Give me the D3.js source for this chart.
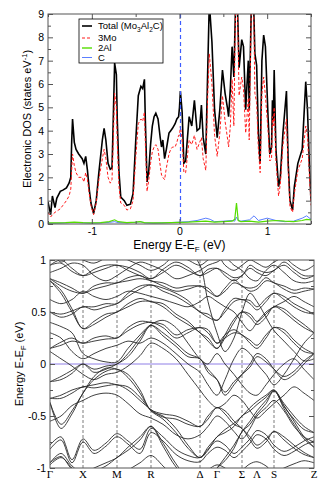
<!DOCTYPE html>
<html>
<head>
<meta charset="utf-8">
<script src="https://cdn.jsdelivr.net/npm/d3@7"></script>
<style>
  body { margin: 0; background: #fff; }
  svg { display: block; font-family: "Liberation Sans", Arial, sans-serif; }
</style>
</head>
<body>
<svg id="chart" width="332" height="494"></svg>
<script>
// ---- DOS panel data ----
const dosEnergy = [-1.50,-1.47,-1.45,-1.42,-1.40,-1.36,-1.33,-1.29,-1.26,-1.24,-1.23,-1.22,-1.20,-1.18,-1.15,-1.11,-1.09,-1.07,-1.05,-1.03,-1.01,-0.98,-0.95,-0.92,-0.88,-0.86,-0.84,-0.815,-0.79,-0.77,-0.76,-0.74,-0.72,-0.71,-0.69,-0.67,-0.63,-0.60,-0.56,-0.53,-0.50,-0.47,-0.44,-0.42,-0.40,-0.39,-0.37,-0.35,-0.33,-0.31,-0.29,-0.27,-0.245,-0.22,-0.205,-0.19,-0.17,-0.15,-0.12,-0.10,-0.08,-0.05,-0.03,-0.01,0.00,0.01,0.03,0.05,0.07,0.11,0.14,0.17,0.20,0.23,0.25,0.27,0.30,0.32,0.34,0.37,0.40,0.43,0.46,0.49,0.52,0.55,0.56,0.58,0.60,0.62,0.64,0.66,0.68,0.71,0.73,0.755,0.77,0.785,0.795,0.82,0.845,0.86,0.88,0.90,0.92,0.94,0.96,0.98,1.01,1.03,1.05,1.06,1.07,1.08,1.10,1.13,1.15,1.18,1.22,1.24,1.26,1.29,1.31,1.35,1.40,1.44,1.46,1.48,1.50];
const dosTotal = [0.95,0.40,1.20,0.70,1.10,1.40,1.45,1.55,1.75,2.00,3.50,4.50,3.50,3.20,3.00,2.80,2.60,2.90,2.30,1.50,0.90,0.45,1.00,2.20,3.60,4.10,3.60,2.60,2.35,2.40,3.80,6.90,6.40,4.50,2.20,1.15,1.00,0.80,0.85,1.30,3.50,5.50,5.90,5.80,6.20,4.50,1.80,2.30,3.40,4.20,4.60,4.75,4.50,3.70,3.30,3.60,2.80,3.20,3.90,4.00,4.10,4.30,4.50,4.60,5.00,5.70,4.80,2.60,2.70,4.60,4.20,5.30,4.00,4.10,5.10,3.70,3.00,6.30,9.50,7.80,4.90,3.70,4.90,6.60,5.60,4.90,4.60,5.80,7.60,6.30,9.50,9.50,6.70,7.90,7.60,4.90,6.00,7.00,4.90,9.50,9.50,7.30,6.80,3.90,2.60,7.00,8.10,7.60,4.60,3.00,3.30,5.30,4.40,6.60,3.20,1.60,2.00,3.90,5.70,2.60,1.00,0.60,1.60,2.60,3.20,6.10,4.90,2.70,1.00];
const dosMo = [0.50,0.30,0.40,0.50,0.55,0.65,0.80,1.00,1.20,1.50,2.30,3.00,2.50,2.20,2.00,2.00,1.80,2.20,1.90,1.30,0.80,0.40,0.90,1.90,2.80,3.20,2.80,2.00,1.75,1.90,3.00,5.60,5.00,3.50,1.60,0.90,0.80,0.60,0.65,1.00,2.80,4.30,4.50,4.40,4.80,3.50,1.40,1.90,2.60,3.10,3.30,3.40,3.20,2.50,2.10,2.00,1.90,2.40,3.00,3.20,3.30,3.30,3.50,3.80,3.80,4.20,3.60,2.20,2.20,3.60,3.40,3.80,3.20,3.50,3.70,2.80,2.30,5.30,7.30,6.00,3.80,2.90,3.90,5.50,4.40,3.60,3.30,4.20,6.20,4.20,9.50,9.50,5.50,6.30,5.80,3.90,4.60,5.40,3.60,9.50,9.50,5.60,5.20,3.20,2.20,5.60,6.30,5.50,4.00,2.70,2.80,4.60,4.20,5.00,2.70,1.20,1.70,3.40,4.50,2.30,0.75,0.50,1.30,2.30,2.80,4.20,3.80,2.20,0.80];
const pdosEnergy = [-1.5,-1.4,-1.3,-1.2,-1.1,-1.0,-0.9,-0.8,-0.74,-0.7,-0.6,-0.5,-0.45,-0.4,-0.3,-0.2,-0.1,0.0,0.1,0.2,0.3,0.35,0.4,0.5,0.6,0.63,0.65,0.67,0.7,0.8,0.85,0.9,1.0,1.1,1.2,1.3,1.4,1.45,1.5];
const dosAl = [0.05,0.05,0.06,0.08,0.06,0.05,0.06,0.10,0.18,0.10,0.06,0.08,0.10,0.06,0.05,0.05,0.06,0.07,0.08,0.10,0.12,0.10,0.08,0.10,0.12,0.20,0.90,0.15,0.10,0.12,0.10,0.08,0.12,0.15,0.12,0.10,0.15,0.20,0.18];
const dosC = [0.03,0.04,0.05,0.06,0.05,0.04,0.05,0.07,0.10,0.06,0.05,0.07,0.10,0.05,0.04,0.05,0.06,0.08,0.10,0.15,0.25,0.20,0.10,0.12,0.15,0.12,0.30,0.15,0.12,0.18,0.35,0.15,0.25,0.15,0.10,0.12,0.25,0.35,0.20];

const dosXTicks = [-1, 0, 1];
const dosXMinor = [-1.5, -0.5, 0.5, 1.5];
const dosYTicks = [0, 1, 2, 3, 4, 5, 6, 7, 8, 9];
const dosYMinor = [0.5, 1.5, 2.5, 3.5, 4.5, 5.5, 6.5, 7.5, 8.5];

// ---- band structure data ----
const kLabels = ["\u0393", "X", "M", "R", "\u0394", "\u0393", "\u03a3", "\u039b", "S", "Z"];
const kLabelPos = [0, 33, 67, 101, 150, 167, 192, 207, 224, 264];
const kDashed = [33, 67, 101, 150, 192, 224];
const kNodes = [0, 11, 22, 33, 44, 56, 67, 78, 90, 101, 113, 126, 138, 150, 158, 167, 175, 184, 192, 200, 207, 216, 224, 234, 244, 254, 264];
const bandYTicks = [-1, -0.5, 0, 0.5, 1];
const bandYMinor = [-0.75, -0.25, 0.25, 0.75];

const band01 = [-0.97,-0.90,-1.00,-1.12,-1.15,-1.10,-1.08,-1.02,-0.95,-0.88,-0.98,-1.10,-1.15,-1.10,-1.02,-0.97,-1.00,-1.06,-1.02,-0.96,-0.94,-0.98,-1.04,-1.00,-0.96,-0.93,-0.95];
const band02 = [-0.78,-0.70,-0.92,-0.72,-0.83,-0.76,-0.67,-0.74,-0.82,-0.62,-0.70,-0.82,-0.88,-0.90,-0.82,-0.74,-0.78,-0.86,-0.80,-0.72,-0.64,-0.68,-0.78,-0.84,-0.80,-0.74,-0.70];
const band03 = [-0.82,-0.73,-0.95,-0.75,-0.86,-0.79,-0.70,-0.77,-0.86,-0.66,-0.74,-0.87,-0.93,-0.94,-0.86,-0.80,-0.83,-0.90,-0.84,-0.76,-0.68,-0.72,-0.82,-0.88,-0.84,-0.78,-0.74];
const band04 = [-0.95,-0.86,-0.98,-1.05,-1.00,-0.95,-0.90,-0.80,-0.70,-0.60,-0.76,-0.96,-1.10,-1.15,-1.10,-1.00,-0.90,-0.78,-0.65,-0.55,-0.45,-0.35,-0.26,-0.38,-0.50,-0.60,-0.66];
const band04b = [-0.95,-0.89,-1.01,-1.05,-1.03,-0.98,-0.90,-0.83,-0.73,-0.60,-0.79,-0.99,-1.10,-1.15,-1.10,-1.00,-0.93,-0.81,-0.65,-0.58,-0.48,-0.38,-0.26,-0.41,-0.53,-0.63,-0.66];
const band05 = [-0.37,-0.58,-0.45,-0.28,-0.12,-0.04,-0.05,-0.10,-0.25,-0.45,-0.50,-0.62,-0.78,-0.90,-0.80,-0.70,-0.63,-0.57,-0.50,-0.42,-0.36,-0.30,-0.25,-0.40,-0.55,-0.70,-0.80];
const band05b = [-0.37,-0.62,-0.48,-0.28,-0.15,-0.07,-0.05,-0.13,-0.28,-0.45,-0.53,-0.66,-0.81,-0.90,-0.83,-0.70,-0.66,-0.60,-0.50,-0.45,-0.39,-0.32,-0.25,-0.43,-0.58,-0.72,-0.80];
const band06 = [-0.33,-0.30,-0.25,-0.22,-0.20,-0.18,-0.20,-0.22,-0.32,-0.44,-0.48,-0.50,-0.55,-0.60,-0.50,-0.42,-0.45,-0.55,-0.62,-0.70,-0.78,-0.72,-0.65,-0.70,-0.78,-0.85,-0.90];
const band06b = [-0.33,-0.33,-0.28,-0.22,-0.23,-0.21,-0.20,-0.25,-0.35,-0.44,-0.51,-0.53,-0.58,-0.60,-0.53,-0.42,-0.48,-0.58,-0.62,-0.73,-0.81,-0.75,-0.65,-0.73,-0.81,-0.87,-0.90];
const band07 = [-0.55,-0.50,-0.40,-0.35,-0.30,-0.28,-0.30,-0.38,-0.48,-0.52,-0.58,-0.68,-0.72,-0.68,-0.60,-0.50,-0.55,-0.65,-0.72,-0.62,-0.50,-0.42,-0.35,-0.45,-0.60,-0.70,-0.75];
const band08 = [-0.17,-0.12,-0.06,0.00,-0.05,-0.02,0.00,0.10,0.25,0.37,0.30,0.20,0.10,0.05,-0.05,-0.15,-0.30,-0.20,-0.10,0.00,0.10,0.05,-0.05,-0.15,-0.10,0.00,0.10];
const band08b = [-0.17,-0.15,-0.09,0.00,-0.08,-0.05,0.00,0.07,0.22,0.37,0.27,0.17,0.07,0.05,-0.08,-0.15,-0.27,-0.17,-0.10,-0.03,0.07,0.02,-0.05,-0.12,-0.07,0.03,0.10];
const band09 = [0.12,0.05,-0.02,-0.10,-0.15,-0.10,-0.08,-0.02,0.08,0.20,0.15,0.05,-0.10,-0.25,-0.35,-0.42,-0.38,-0.30,-0.35,-0.45,-0.52,-0.45,-0.38,-0.30,-0.22,-0.28,-0.35];
const band10 = [0.40,0.36,0.30,0.10,0.05,0.02,0.02,0.15,0.28,0.38,0.42,0.35,0.20,0.05,0.00,0.10,0.00,-0.10,-0.20,-0.28,-0.30,-0.20,-0.10,0.00,0.05,-0.05,-0.15];
const band11 = [0.30,0.25,0.12,0.05,0.10,0.15,0.18,0.22,0.20,0.25,0.20,0.10,0.00,-0.08,-0.20,-0.30,-0.15,0.05,0.15,0.10,0.00,-0.10,-0.20,-0.10,0.05,0.20,0.30];
const band12 = [0.15,0.18,0.22,0.20,0.22,0.24,0.25,0.32,0.38,0.40,0.35,0.25,0.30,0.35,0.30,0.20,0.25,0.30,0.28,0.20,0.15,0.25,0.35,0.30,0.20,0.12,0.10];
const band12b = [0.15,0.21,0.25,0.20,0.25,0.27,0.25,0.35,0.41,0.40,0.38,0.28,0.33,0.35,0.33,0.20,0.28,0.33,0.28,0.23,0.18,0.28,0.35,0.33,0.23,0.15,0.10];
const band13 = [0.80,0.68,0.50,0.34,0.38,0.45,0.50,0.55,0.60,0.60,0.55,0.45,0.38,0.30,0.22,0.15,0.25,0.40,0.50,0.45,0.38,0.45,0.55,0.50,0.42,0.35,0.30];
const band13b = [0.80,0.71,0.53,0.34,0.41,0.48,0.50,0.58,0.63,0.60,0.58,0.48,0.41,0.30,0.25,0.15,0.28,0.43,0.50,0.48,0.41,0.48,0.55,0.53,0.45,0.38,0.30];
const band14 = [0.50,0.45,0.48,0.55,0.52,0.55,0.58,0.65,0.72,0.76,0.70,0.65,0.58,0.50,0.45,0.42,0.50,0.60,0.62,0.58,0.52,0.60,0.68,0.62,0.55,0.50,0.48];
const band14b = [0.50,0.48,0.51,0.55,0.55,0.58,0.58,0.68,0.75,0.76,0.73,0.68,0.61,0.50,0.48,0.42,0.53,0.63,0.62,0.61,0.55,0.63,0.68,0.65,0.58,0.53,0.48];
const band15 = [0.62,0.58,0.62,0.70,0.65,0.62,0.65,0.70,0.68,0.65,0.62,0.58,0.55,0.60,0.65,0.60,0.55,0.50,0.40,0.32,0.40,0.50,0.55,0.60,0.65,0.60,0.55];
const band16 = [1.20,1.15,1.10,1.10,1.15,1.20,1.20,1.15,1.10,1.05,1.10,1.15,1.10,0.95,0.60,0.30,0.12,0.25,0.50,0.68,0.60,0.45,0.32,0.22,0.12,0.03,0.05];
const band17 = [0.82,0.75,0.70,0.68,0.72,0.75,0.78,0.80,0.82,0.80,0.75,0.70,0.72,0.75,0.70,0.65,0.70,0.78,0.75,0.70,0.72,0.80,0.78,0.72,0.68,0.70,0.72];
const band17b = [0.82,0.78,0.73,0.68,0.75,0.78,0.78,0.83,0.85,0.80,0.78,0.73,0.75,0.75,0.73,0.65,0.73,0.81,0.75,0.73,0.75,0.83,0.78,0.75,0.71,0.73,0.72];
const band18 = [0.95,1.00,0.92,0.85,0.88,0.92,0.95,0.90,0.85,0.82,0.88,0.95,0.90,0.85,0.88,0.92,0.85,0.80,0.85,0.92,0.88,0.85,0.90,0.95,0.88,0.82,0.85];
const band18b = [0.95,0.97,0.89,0.85,0.91,0.95,0.95,0.93,0.88,0.82,0.91,0.98,0.93,0.85,0.91,0.92,0.88,0.83,0.85,0.95,0.91,0.88,0.90,0.98,0.91,0.85,0.85];
const band19 = [1.10,0.98,1.05,1.00,0.97,1.02,1.05,1.00,0.95,0.90,0.95,1.05,1.00,0.95,1.00,1.05,0.95,0.90,0.95,1.00,0.97,0.93,0.98,1.02,0.95,0.90,0.95];
const band20 = [0.88,0.92,0.97,0.95,0.85,0.80,0.85,0.92,0.98,0.95,0.90,0.82,0.85,0.90,0.95,0.98,1.02,0.95,0.90,0.82,0.80,0.90,0.95,0.88,0.80,0.78,0.80];
const bands = [band01, band02, band03, band04, band04b, band05, band05b, band06, band06b, band07,
               band08, band08b, band09, band10, band11, band12, band12b, band13, band13b, band14,
               band14b, band15, band16, band17, band17b, band18, band18b, band19, band20];

const svg = d3.select("#chart");
const frameColor = "#555";

// ================= DOS panel =================
const dosBox = { left: 48, right: 311, top: 14, bottom: 224 };
const xE = d3.scaleLinear().domain([-1.5, 1.5]).range([dosBox.left, dosBox.right]);
const yD = d3.scaleLinear().domain([0, 9]).range([dosBox.bottom, dosBox.top]);

const defs = svg.append("defs");
defs.append("clipPath").attr("id", "clipDos").append("rect")
  .attr("x", dosBox.left).attr("y", dosBox.top)
  .attr("width", dosBox.right - dosBox.left).attr("height", dosBox.bottom - dosBox.top);

const dosG = svg.append("g").attr("clip-path", "url(#clipDos)");

const dosLine = (ex, ys) => d3.line()
  .x((d, i) => xE(ex[i]))
  .y(d => yD(d))(ys);

dosG.append("path").attr("d", dosLine(pdosEnergy, dosC))
  .attr("fill", "none").attr("stroke", "#5b7fff").attr("stroke-width", 1);
dosG.append("path").attr("d", dosLine(pdosEnergy, dosAl))
  .attr("fill", "none").attr("stroke", "#55dd00").attr("stroke-width", 1.2);
dosG.append("path").attr("d", dosLine(dosEnergy, dosTotal))
  .attr("fill", "none").attr("stroke", "#000").attr("stroke-width", 1.6);
dosG.append("path").attr("d", dosLine(dosEnergy, dosMo))
  .attr("fill", "none").attr("stroke", "#ff1a1a").attr("stroke-width", 1)
  .attr("stroke-dasharray", "3,2");

// Fermi level marker, drawn over the curves
dosG.append("line")
  .attr("x1", Math.round(xE(0)) + 0.5).attr("x2", Math.round(xE(0)) + 0.5)
  .attr("y1", dosBox.top).attr("y2", dosBox.bottom)
  .attr("stroke", "#3d5cff").attr("stroke-width", 1.2)
  .attr("stroke-dasharray", "4,3");

// axes (ticks pointing inward)
function styleAxis(g) {
  g.select(".domain").remove();
  g.selectAll(".tick line").attr("stroke", frameColor);
  g.selectAll(".tick text").attr("fill", "#000").attr("font-size", 10.5);
}
svg.append("g").attr("transform", `translate(0,${dosBox.bottom})`)
  .call(d3.axisBottom(xE).tickValues(dosXTicks).tickSize(-5).tickPadding(4).tickFormat(d => String(d)))
  .call(styleAxis);
svg.append("g").attr("transform", `translate(0,${dosBox.bottom})`)
  .call(d3.axisBottom(xE).tickValues(dosXMinor).tickSize(-3).tickFormat(""))
  .call(styleAxis);
svg.append("g").attr("transform", `translate(0,${dosBox.top})`)
  .call(d3.axisTop(xE).tickValues(dosXTicks).tickSize(-5).tickFormat(""))
  .call(styleAxis);
svg.append("g").attr("transform", `translate(0,${dosBox.top})`)
  .call(d3.axisTop(xE).tickValues(dosXMinor).tickSize(-3).tickFormat(""))
  .call(styleAxis);
svg.append("g").attr("transform", `translate(${dosBox.left},0)`)
  .call(d3.axisLeft(yD).tickValues(dosYTicks).tickSize(-5).tickPadding(4).tickFormat(d => String(d)))
  .call(styleAxis);
svg.append("g").attr("transform", `translate(${dosBox.left},0)`)
  .call(d3.axisLeft(yD).tickValues(dosYMinor).tickSize(-3).tickFormat(""))
  .call(styleAxis);
svg.append("g").attr("transform", `translate(${dosBox.right},0)`)
  .call(d3.axisRight(yD).tickValues(dosYTicks).tickSize(-5).tickFormat(""))
  .call(styleAxis);
svg.append("g").attr("transform", `translate(${dosBox.right},0)`)
  .call(d3.axisRight(yD).tickValues(dosYMinor).tickSize(-3).tickFormat(""))
  .call(styleAxis);

svg.append("rect")
  .attr("x", dosBox.left).attr("y", dosBox.top)
  .attr("width", dosBox.right - dosBox.left).attr("height", dosBox.bottom - dosBox.top)
  .attr("fill", "none").attr("stroke", frameColor).attr("stroke-width", 1);

// axis titles
const xTitle = svg.append("text")
  .attr("x", xE(0)).attr("y", 248.5)
  .attr("text-anchor", "middle").attr("font-size", 12);
xTitle.append("tspan").text("Energy E-E");
xTitle.append("tspan").attr("font-size", 8).attr("dy", 3).text("F");
xTitle.append("tspan").attr("dy", -3).text(" (eV)");

const yTitle = svg.append("text")
  .attr("transform", `translate(31,${(dosBox.top + dosBox.bottom) / 2}) rotate(-90)`)
  .attr("text-anchor", "middle").attr("font-size", 11);
yTitle.append("tspan").text("Electronic DOS (states eV");
yTitle.append("tspan").attr("font-size", 7.5).attr("dy", -4).text("-1");
yTitle.append("tspan").attr("dy", 4).text(")");

// legend
const legend = svg.append("g");
legend.append("rect")
  .attr("x", 79).attr("y", 19).attr("width", 84).attr("height", 44)
  .attr("fill", "#fff").attr("stroke", "#000").attr("stroke-width", 0.8);
const legendItems = [
  { color: "#000", width: 1.6, dash: null, y: 26 },
  { color: "#ff1a1a", width: 1, dash: "3,2", y: 38 },
  { color: "#55dd00", width: 1.4, dash: null, y: 48 },
  { color: "#5b7fff", width: 1, dash: null, y: 57.5 }
];
legendItems.forEach(it => {
  legend.append("line").attr("x1", 82).attr("x2", 92).attr("y1", it.y).attr("y2", it.y)
    .attr("stroke", it.color).attr("stroke-width", it.width)
    .attr("stroke-dasharray", it.dash);
});
const lt = legend.append("text").attr("x", 98).attr("y", 29.3).attr("font-size", 9.5);
lt.append("tspan").text("Total (Mo");
lt.append("tspan").attr("font-size", 6.5).attr("dy", 2.5).text("3");
lt.append("tspan").attr("dy", -2.5).text("Al");
lt.append("tspan").attr("font-size", 6.5).attr("dy", 2.5).text("2");
lt.append("tspan").attr("dy", -2.5).text("C)");
legend.append("text").attr("x", 98).attr("y", 41.3).attr("font-size", 9.5).text("3Mo");
legend.append("text").attr("x", 98).attr("y", 51.3).attr("font-size", 9.5).text("2Al");
legend.append("text").attr("x", 98).attr("y", 60.8).attr("font-size", 9.5).text("C");

// ================= band structure panel =================
const bandBox = { left: 50, right: 314, top: 260, bottom: 468 };
const xK = d3.scaleLinear().domain([0, 264]).range([bandBox.left, bandBox.right]);
const yB = d3.scaleLinear().domain([-1, 1]).range([bandBox.bottom, bandBox.top]);

defs.append("clipPath").attr("id", "clipBand").append("rect")
  .attr("x", bandBox.left).attr("y", bandBox.top)
  .attr("width", bandBox.right - bandBox.left).attr("height", bandBox.bottom - bandBox.top);

const bandG = svg.append("g").attr("clip-path", "url(#clipBand)");

bandG.selectAll(".kline").data(kDashed).join("line")
  .attr("class", "kline")
  .attr("x1", d => xK(d)).attr("x2", d => xK(d))
  .attr("y1", bandBox.top).attr("y2", bandBox.bottom)
  .attr("stroke", "#444").attr("stroke-width", 0.7).attr("stroke-dasharray", "3,2");

bandG.append("line")
  .attr("x1", bandBox.left).attr("x2", bandBox.right)
  .attr("y1", yB(0)).attr("y2", yB(0))
  .attr("stroke", "#8f7fe6").attr("stroke-width", 1);

const bandLine = d3.line()
  .x((d, i) => xK(kNodes[i]))
  .y(d => yB(d))
  .curve(d3.curveCatmullRom.alpha(0.5));

bandG.selectAll(".band").data(bands).join("path")
  .attr("class", "band")
  .attr("d", bandLine)
  .attr("fill", "none").attr("stroke", "#2a2a2a").attr("stroke-width", 0.9);

svg.append("g").attr("transform", `translate(${bandBox.left},0)`)
  .call(d3.axisLeft(yB).tickValues(bandYTicks).tickSize(-5).tickPadding(4).tickFormat(d => String(d)))
  .call(styleAxis);
svg.append("g").attr("transform", `translate(${bandBox.left},0)`)
  .call(d3.axisLeft(yB).tickValues(bandYMinor).tickSize(-3).tickFormat(""))
  .call(styleAxis);
svg.append("g").attr("transform", `translate(${bandBox.right},0)`)
  .call(d3.axisRight(yB).tickValues(bandYTicks).tickSize(-5).tickFormat(""))
  .call(styleAxis);
svg.append("g").attr("transform", `translate(${bandBox.right},0)`)
  .call(d3.axisRight(yB).tickValues(bandYMinor).tickSize(-3).tickFormat(""))
  .call(styleAxis);

svg.append("rect")
  .attr("x", bandBox.left).attr("y", bandBox.top)
  .attr("width", bandBox.right - bandBox.left).attr("height", bandBox.bottom - bandBox.top)
  .attr("fill", "none").attr("stroke", frameColor).attr("stroke-width", 1);

svg.selectAll(".klabel").data(kLabels).join("text")
  .attr("class", "klabel")
  .attr("x", (d, i) => xK(kLabelPos[i]))
  .attr("y", 478)
  .attr("text-anchor", "middle")
  .attr("font-family", "'Liberation Serif', 'Times New Roman', serif")
  .attr("font-size", 11)
  .text(d => d);

const bTitle = svg.append("text")
  .attr("transform", `translate(23,${yB(0)}) rotate(-90)`)
  .attr("text-anchor", "middle").attr("font-size", 11);
bTitle.append("tspan").text("Energy E-E");
bTitle.append("tspan").attr("font-size", 7.5).attr("dy", 3).text("F");
bTitle.append("tspan").attr("dy", -3).text(" (eV)");
</script>
</body>
</html>
